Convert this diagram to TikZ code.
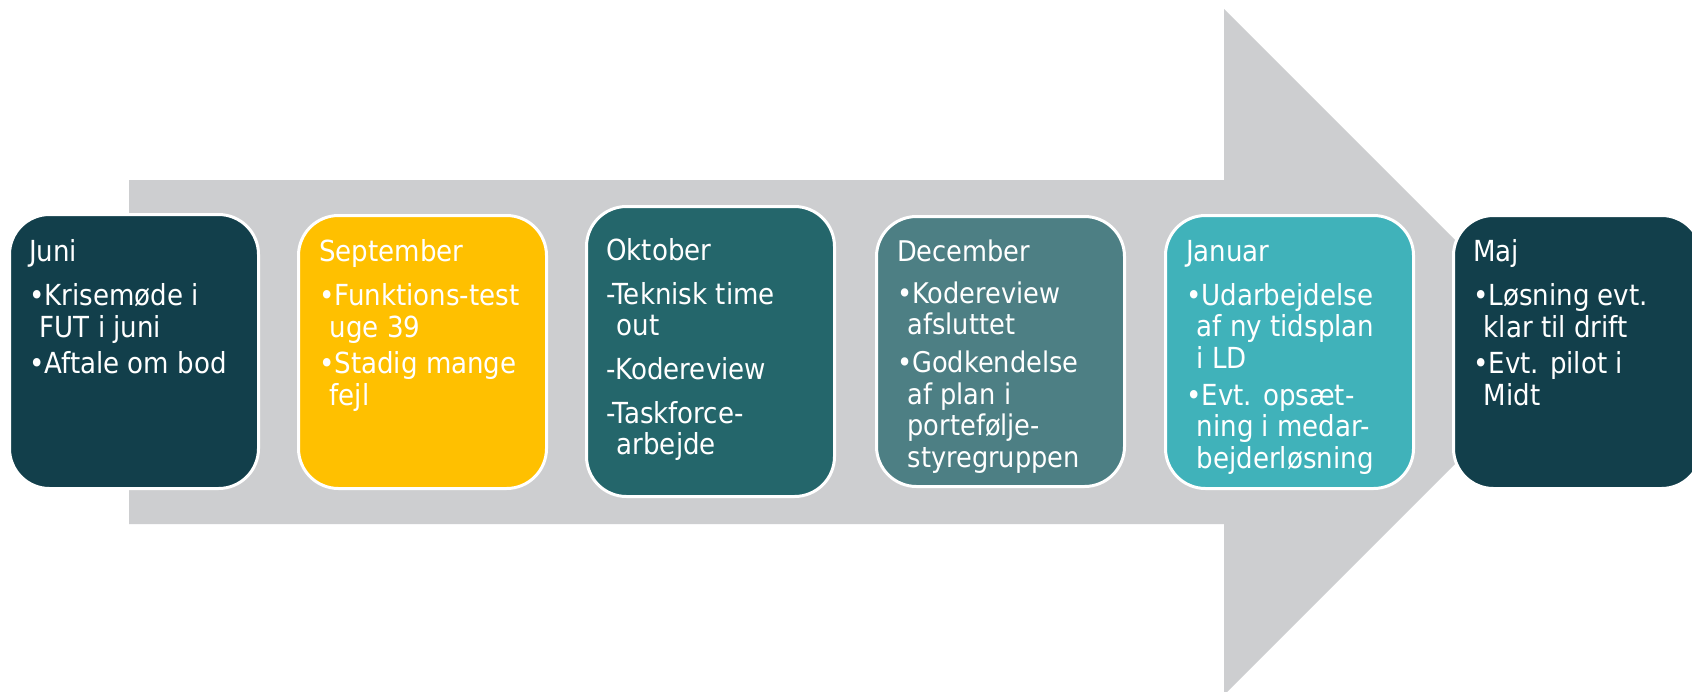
\documentclass[tikz,border=0pt]{standalone}
\usepackage{fontspec}
\setmainfont{DejaVu Sans Condensed}
\definecolor{arrowgray}{HTML}{CDCED0}
\definecolor{darkteal}{HTML}{123F4B}
\definecolor{yellowbox}{HTML}{FFC000}
\definecolor{okteal}{HTML}{24666B}
\definecolor{decteal}{HTML}{4D7F84}
\definecolor{janteal}{HTML}{40B2BA}
\tikzset{
  x=1pt, y=-1pt,
  monthbox/.style={rectangle, rounded corners=40pt, draw=white, line width=3pt,
    minimum width=248pt, inner sep=0pt},
  monthtext/.style={anchor=north west, inner sep=0pt, align=left, text=white},
}
\newcommand{\ind}{\hspace*{10.5pt}}
\begin{document}
\begin{tikzpicture}
\useasboundingbox[fill=white] (0,0) rectangle (1692,691);
% big arrow
\fill[arrowgray] (129,180) -- (1224,180) -- (1224,9) -- (1567,352) -- (1224,695) -- (1224,524) -- (129,524) -- cycle;
% boxes
\node[monthbox, fill=darkteal, minimum width=249pt, minimum height=274pt] (juni) at (134,351.5) {};
\node[monthbox, fill=yellowbox, minimum height=273pt] (sep) at (422.5,352) {};
\node[monthbox, fill=okteal, minimum height=290pt] (okt) at (710.5,351.5) {};
\node[monthbox, fill=decteal, minimum height=270pt] (dec) at (1000.5,351.5) {};
\node[monthbox, fill=janteal, minimum height=273pt] (jan) at (1289.5,352) {};
\node[monthbox, fill=darkteal, minimum height=273pt] (maj) at (1577.5,352) {};
% texts
\node[monthtext, font=\fontsize{29}{32}\selectfont] (juniT) at (29,238.6)
  {\strut Juni\\[12pt]•Krisemøde i\\\ind FUT i juni\\[4pt]•Aftale om bod};
\node[monthtext, font=\fontsize{29}{32}\selectfont] (sepT) at (319,238.6)
  {\strut September\\[12pt]•Funktions-test\\\ind uge 39\\[4pt]•Stadig mange\\\ind fejl};
\node[monthtext, font=\fontsize{29}{31}\selectfont] (oktT) at (606,238.3)
  {\strut Oktober\\[12pt]-Teknisk time\\\ind out\\[13pt]-Kodereview\\[13pt]-Taskforce-\\\ind arbejde};
\node[monthtext, font=\fontsize{28.5}{31.5}\selectfont] (decT) at (897,238.95)
  {\strut December\\[10.5pt]•Kodereview\\\ind afsluttet\\[6.5pt]•Godkendelse\\\ind af plan i\\\ind portefølje-\\\ind styregruppen};
\node[monthtext, font=\fontsize{29}{31.5}\selectfont] (janT) at (1186,238.95)
  {\strut Januar\\[12.5pt]•Udarbejdelse\\\ind af ny tidsplan\\\ind i LD\\[5.5pt]•Evt. opsæt-\\\ind ning i medar-\\\ind bejderløsning};
\node[monthtext, font=\fontsize{29}{32}\selectfont] (majT) at (1473,238.6)
  {\strut Maj\\[12pt]•Løsning evt.\\\ind klar til drift\\[4pt]•Evt. pilot i\\\ind Midt};
\end{tikzpicture}
\end{document}
